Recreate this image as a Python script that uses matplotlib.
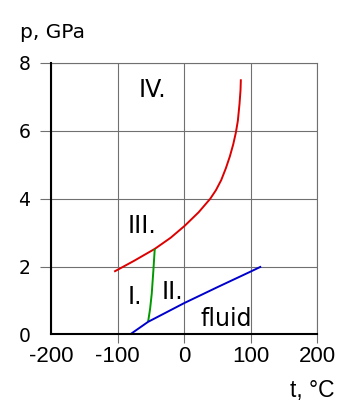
import matplotlib
matplotlib.use("Agg")
import matplotlib.pyplot as plt

# phase boundaries (t in degC, p in GPa)
red_t = [-105, -75, -44, -20, 1, 22, 39.5, 48, 56, 63, 69, 74, 78, 81, 83.5, 85, 85.5]
red_p = [1.85, 2.17, 2.52, 2.85, 3.2, 3.6, 4.0, 4.25, 4.55, 4.9, 5.25, 5.6, 5.95, 6.3, 6.8, 7.2, 7.52]

green_t = [-44, -46, -48.5, -51, -54]
green_p = [2.52, 1.9, 1.2, 0.75, 0.37]

blue_t = [-81, -54, 0, 50, 100, 116]
blue_p = [0, 0.37, 0.92, 1.39, 1.85, 2.0]

region_names = ["IV.", "III.", "I.", "II.", "fluid"]
region_t = [-48, -63, -73.5, -17.6, 64]
region_p = [7.01, 3.0, 0.9, 1.04, 0.25]

xticks = [-200, -100, 0, 100, 200]
yticks = [0, 2, 4, 6, 8]

gridc = "#707070"

fig = plt.figure(figsize=(3.6, 4.16), dpi=100)
ax = fig.add_axes([51/360, 1-334.4/416, 266/360, 271.4/416])

ax.plot(red_t, red_p, color="#dd0000", lw=1.4, solid_capstyle="butt")
ax.plot(green_t, green_p, color="#009900", lw=1.4, solid_capstyle="butt")
ax.plot(blue_t, blue_p, color="#0000cc", lw=1.4, solid_capstyle="butt")

for name, t, p in zip(region_names, region_t, region_p):
    ax.text(t, p, name, ha="center", va="baseline", fontsize=17, family="DejaVu Sans")

ax.set_xlim(-200, 200)
ax.set_ylim(0, 8)
ax.set_xticks(xticks)
ax.set_yticks(yticks)
ax.set_xticklabels([str(v) for v in xticks], family="Liberation Sans", fontsize=16)
ax.set_yticklabels([str(v) for v in yticks], family="DejaVu Sans", fontsize=13.5)
ax.grid(True, color=gridc, lw=0.8)
ax.set_axisbelow(True)
ax.tick_params(axis="x", length=6.5, width=0.8, color=gridc, pad=2)
ax.tick_params(axis="y", length=8, width=0.8, color=gridc, pad=7)
ax.xaxis.get_major_ticks()[0].tick1line.set_visible(False)
ax.yaxis.get_major_ticks()[0].tick1line.set_visible(False)

for s in ["top", "right"]:
    ax.spines[s].set_color(gridc)
    ax.spines[s].set_linewidth(0.8)
for s in ["left", "bottom"]:
    ax.spines[s].set_color("black")
    ax.spines[s].set_linewidth(1.5)
    ax.spines[s].set_zorder(5)

fig.text(20/360, 1-32/416, "p, GPa", ha="left", va="center", fontsize=14.5, family="DejaVu Sans")
fig.text(335/360, 1-391/416, "t, °C", ha="right", va="center", fontsize=16.5, family="Liberation Sans")

fig.savefig("out.png", dpi=100)
